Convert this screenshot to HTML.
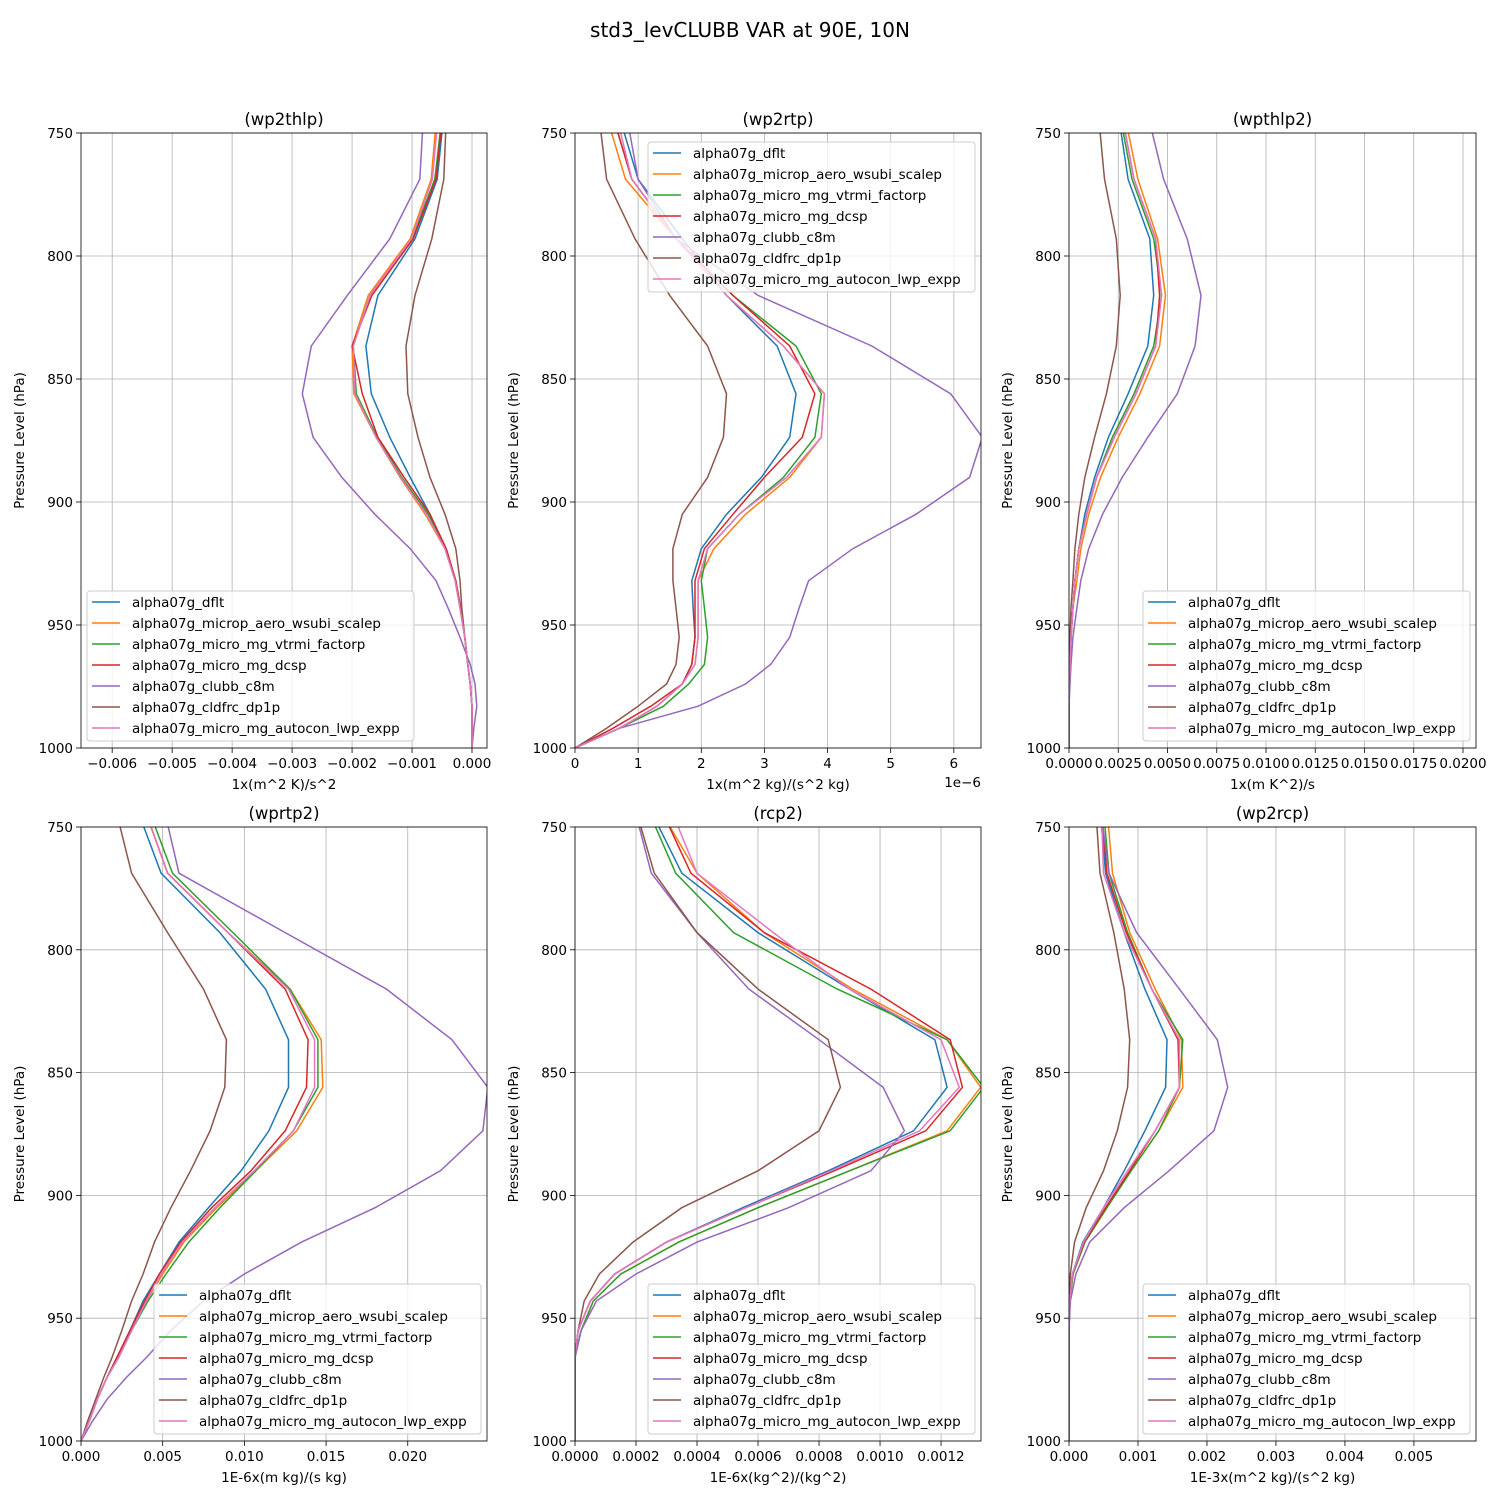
<!DOCTYPE html>
<html><head><meta charset="utf-8">
<style>
html,body{margin:0;padding:0;background:#fff;}
svg{display:block;font-family:"DejaVu Sans","Liberation Sans",sans-serif;}
</style></head>
<body>
<svg id="fig" width="1500" height="1500" viewBox="0 0 1500 1500">
<rect width="1500" height="1500" fill="#fff"/>
<text x="750" y="37" font-size="20" text-anchor="middle">std3_levCLUBB VAR at 90E, 10N</text>
</svg>
<script>
const levels = [726, 768.8, 793, 816, 836.6, 856, 873.7, 890, 905, 919, 932, 943, 955, 966, 974, 983, 992, 1000];
const seriesNames = ["alpha07g_dflt","alpha07g_microp_aero_wsubi_scalep","alpha07g_micro_mg_vtrmi_factorp","alpha07g_micro_mg_dcsp","alpha07g_clubb_c8m","alpha07g_cldfrc_dp1p","alpha07g_micro_mg_autocon_lwp_expp"];
const colors = ["#1f77b4","#ff7f0e","#2ca02c","#d62728","#9467bd","#8c564b","#e377c2"];

// panel 1: wp2thlp
const p1Blue   = [-0.00040,-0.00058,-0.00095,-0.00157,-0.00177,-0.00168,-0.00137,-0.00103,-0.00070,-0.00045,-0.00028,-0.00020,-0.00012,-0.00007,-0.00003,0,0,0];
const p1Orange = [-0.00053,-0.00068,-0.00103,-0.00173,-0.00200,-0.00197,-0.00160,-0.00120,-0.00078,-0.00045,-0.00028,-0.00020,-0.00012,-0.00007,-0.00003,0,0,0];
const p1Green  = [-0.00042,-0.00062,-0.00100,-0.00170,-0.00198,-0.00193,-0.00158,-0.00117,-0.00073,-0.00043,-0.00027,-0.00019,-0.00012,-0.00007,-0.00003,0,0,0];
const p1Red    = [-0.00042,-0.00060,-0.00098,-0.00167,-0.00200,-0.00183,-0.00157,-0.00113,-0.00070,-0.00043,-0.00027,-0.00019,-0.00012,-0.00007,-0.00003,0,0,0];
const p1Purple = [-0.00077,-0.00087,-0.00137,-0.00208,-0.00268,-0.00283,-0.00265,-0.00217,-0.00162,-0.00103,-0.00060,-0.00040,-0.00020,-0.00003,0.00005,0.00008,0.00003,0];
const p1Brown  = [-0.00040,-0.00047,-0.00067,-0.00095,-0.00110,-0.00107,-0.00090,-0.00070,-0.00045,-0.00027,-0.00020,-0.00017,-0.00012,-0.00007,-0.00003,0,0,0];
const p1Pink   = [-0.00050,-0.00066,-0.00101,-0.00170,-0.00198,-0.00195,-0.00160,-0.00119,-0.00076,-0.00045,-0.00028,-0.00020,-0.00012,-0.00007,-0.00003,0,0,0];

// panel 2: wp2rtp (x 1e-6)
const p2Blue   = [0.5,1.0,1.7,2.4,3.2,3.5,3.4,2.95,2.4,2.0,1.85,1.87,1.9,1.85,1.7,1.3,0.7,0];
const p2Orange = [0.3,0.8,1.6,2.4,3.3,3.95,3.9,3.4,2.7,2.2,1.95,1.95,1.95,1.9,1.7,1.3,0.7,0];
const p2Green  = [0.4,0.9,1.6,2.5,3.5,3.9,3.8,3.3,2.6,2.1,2.0,2.05,2.1,2.05,1.8,1.4,0.7,0];
const p2Red    = [0.4,0.9,1.6,2.5,3.4,3.8,3.6,3.0,2.5,2.05,1.9,1.9,1.9,1.85,1.7,1.2,0.6,0];
const p2Purple = [0.7,1.0,1.6,2.9,4.7,5.95,6.45,6.25,5.4,4.4,3.7,3.55,3.4,3.1,2.7,1.95,0.7,0];
const p2Brown  = [0.3,0.5,0.95,1.5,2.1,2.4,2.35,2.1,1.7,1.55,1.55,1.6,1.65,1.6,1.45,1.0,0.5,0];
const p2Pink   = [0.5,0.9,1.6,2.4,3.3,3.95,3.9,3.35,2.6,2.1,1.95,1.95,1.95,1.9,1.7,1.3,0.7,0];

// panel 3: wpthlp2
const p3Blue   = [0.0022,0.0030,0.0041,0.0043,0.0040,0.0030,0.0020,0.0013,0.0008,0.0005,0.0003,0.0002,0.0001,0.00005,0.00002,0,0,0];
const p3Orange = [0.0024,0.0035,0.0045,0.0049,0.0046,0.0036,0.0025,0.0016,0.0010,0.0006,0.0004,0.0002,0.0001,0.00005,0.00002,0,0,0];
const p3Green  = [0.0022,0.0032,0.0043,0.0047,0.0043,0.0033,0.0022,0.0014,0.0009,0.0005,0.0003,0.0002,0.0001,0.00005,0.00002,0,0,0];
const p3Red    = [0.0023,0.0033,0.0044,0.0046,0.0044,0.0034,0.0023,0.0014,0.0009,0.0005,0.0003,0.0002,0.0001,0.00005,0.00002,0,0,0];
const p3Purple = [0.0035,0.0048,0.0060,0.0067,0.0064,0.0055,0.0040,0.0027,0.0017,0.0010,0.0006,0.0004,0.0002,0.0001,0.00005,0,0,0];
const p3Brown  = [0.0013,0.0018,0.0024,0.0026,0.0024,0.0019,0.0013,0.0008,0.0005,0.0003,0.0002,0.0001,0.00005,0.00002,0,0,0,0];
const p3Pink   = [0.0023,0.0033,0.0044,0.0047,0.0044,0.0034,0.0023,0.0014,0.0009,0.0005,0.0003,0.0002,0.0001,0.00005,0.00002,0,0,0];

// panel 4: wprtp2
const p4Blue   = [0.0025,0.0049,0.0085,0.0113,0.0127,0.0127,0.0115,0.0098,0.0078,0.0060,0.0048,0.0038,0.0030,0.0022,0.0016,0.0010,0.0005,0];
const p4Orange = [0.0030,0.0053,0.0090,0.0128,0.0147,0.0148,0.0132,0.0107,0.0083,0.0063,0.0050,0.0040,0.0031,0.0023,0.0016,0.0010,0.0005,0];
const p4Green  = [0.0032,0.0056,0.0093,0.0128,0.0145,0.0145,0.0130,0.0107,0.0085,0.0066,0.0052,0.0041,0.0031,0.0023,0.0016,0.0010,0.0005,0];
const p4Red    = [0.0030,0.0053,0.0090,0.0125,0.0139,0.0138,0.0125,0.0104,0.0080,0.0061,0.0048,0.0039,0.0030,0.0022,0.0016,0.0010,0.0005,0];
const p4Purple = [0.0045,0.0060,0.0125,0.0187,0.0227,0.0249,0.0246,0.0220,0.0180,0.0135,0.0100,0.0075,0.0055,0.0040,0.0028,0.0016,0.0007,0];
const p4Brown  = [0.0015,0.0031,0.0053,0.0075,0.0089,0.0088,0.0079,0.0067,0.0055,0.0045,0.0038,0.0031,0.0025,0.0019,0.0014,0.0009,0.0004,0];
const p4Pink   = [0.0030,0.0053,0.0090,0.0127,0.0143,0.0143,0.0130,0.0106,0.0082,0.0062,0.0049,0.0040,0.0031,0.0023,0.0016,0.0010,0.0005,0];

// panel 5: rcp2
const p5Blue   = [0.00018,0.00035,0.00060,0.00090,0.00118,0.00122,0.00111,0.00083,0.00055,0.00030,0.00013,0.00005,0.00001,0,0,0,0,0];
const p5Orange = [0.00020,0.00040,0.00062,0.00091,0.00122,0.00133,0.00122,0.00090,0.00060,0.00034,0.00015,0.00006,0.00002,0,0,0,0,0];
const p5Green  = [0.00018,0.00033,0.00052,0.00086,0.00122,0.00134,0.00123,0.00090,0.00060,0.00034,0.00015,0.00006,0.00002,0,0,0,0,0];
const p5Red    = [0.00022,0.00038,0.00062,0.00097,0.00123,0.00127,0.00115,0.00085,0.00056,0.00030,0.00013,0.00005,0.00001,0,0,0,0,0];
const p5Purple = [0.00016,0.00025,0.00040,0.00057,0.00080,0.00101,0.00108,0.00097,0.00070,0.00040,0.00020,0.00007,0.00002,0,0,0,0,0];
const p5Brown  = [0.00016,0.00026,0.00040,0.00060,0.00083,0.00087,0.00080,0.00060,0.00035,0.00019,0.00008,0.00003,0.00001,0,0,0,0,0];
const p5Pink   = [0.00026,0.00040,0.00065,0.00090,0.00120,0.00126,0.00113,0.00084,0.00056,0.00030,0.00013,0.00005,0.00001,0,0,0,0,0];

// panel 6: wp2rcp
const p6Blue   = [0.00040,0.00053,0.00080,0.00110,0.00142,0.00140,0.00110,0.00080,0.00050,0.00020,0.00005,0.00001,0,0,0,0,0,0];
const p6Orange = [0.00050,0.00063,0.00088,0.00125,0.00163,0.00165,0.00130,0.00090,0.00055,0.00023,0.00006,0.00001,0,0,0,0,0,0];
const p6Green  = [0.00045,0.00058,0.00085,0.00120,0.00165,0.00160,0.00130,0.00090,0.00055,0.00023,0.00006,0.00001,0,0,0,0,0,0];
const p6Red    = [0.00042,0.00055,0.00083,0.00120,0.00158,0.00160,0.00125,0.00088,0.00053,0.00022,0.00005,0.00001,0,0,0,0,0,0];
const p6Purple = [0.00038,0.00058,0.00098,0.00160,0.00215,0.00230,0.00210,0.00145,0.00080,0.00030,0.00010,0.00002,0,0,0,0,0,0];
const p6Brown  = [0.00035,0.00045,0.00065,0.00080,0.00088,0.00085,0.00070,0.00050,0.00025,0.00008,0.00002,0,0,0,0,0,0,0];
const p6Pink   = [0.00045,0.00050,0.00080,0.00120,0.00160,0.00160,0.00125,0.00085,0.00050,0.00021,0.00005,0.00001,0,0,0,0,0,0];

const yTicks = [750,800,850,900,950,1000];
const p1Ticks = [-0.006,-0.005,-0.004,-0.003,-0.002,-0.001,0];
const p1Labels = ["\u22120.006","\u22120.005","\u22120.004","\u22120.003","\u22120.002","\u22120.001","0.000"];
const p2Ticks = [0,1,2,3,4,5,6];
const p2Labels = ["0","1","2","3","4","5","6"];
const p3Ticks = [0,0.0025,0.005,0.0075,0.01,0.0125,0.015,0.0175,0.02];
const p3Labels = ["0.0000","0.0025","0.0050","0.0075","0.0100","0.0125","0.0150","0.0175","0.0200"];
const p4Ticks = [0,0.005,0.01,0.015,0.02];
const p4Labels = ["0.000","0.005","0.010","0.015","0.020"];
const p5Ticks = [0,0.0002,0.0004,0.0006,0.0008,0.001,0.0012];
const p5Labels = ["0.0000","0.0002","0.0004","0.0006","0.0008","0.0010","0.0012"];
const p6Ticks = [0,0.001,0.002,0.003,0.004,0.005];
const p6Labels = ["0.000","0.001","0.002","0.003","0.004","0.005"];

const panels = [
 {id:"wp2thlp", title:"(wp2thlp)", x0:81,x1:487,y0:133,y1:748, xmin:-0.00652, xmax:0.00025, ticks:p1Ticks, labels:p1Labels, xlabel:"1x(m^2 K)/s^2", data:[p1Blue,p1Orange,p1Green,p1Red,p1Purple,p1Brown,p1Pink], leg:[87,591]},
 {id:"wp2rtp", title:"(wp2rtp)", x0:575,x1:981,y0:133,y1:748, xmin:0, xmax:6.43, ticks:p2Ticks, labels:p2Labels, xlabel:"1x(m^2 kg)/(s^2 kg)", data:[p2Blue,p2Orange,p2Green,p2Red,p2Purple,p2Brown,p2Pink], leg:[648,142], offset:"1e\u22126"},
 {id:"wpthlp2", title:"(wpthlp2)", x0:1069,x1:1476,y0:133,y1:748, xmin:0, xmax:0.02066, ticks:p3Ticks, labels:p3Labels, xlabel:"1x(m K^2)/s", data:[p3Blue,p3Orange,p3Green,p3Red,p3Purple,p3Brown,p3Pink], leg:[1143,591]},
 {id:"wprtp2", title:"(wprtp2)", x0:81,x1:487,y0:827,y1:1441, xmin:0, xmax:0.02485, ticks:p4Ticks, labels:p4Labels, xlabel:"1E-6x(m kg)/(s kg)", data:[p4Blue,p4Orange,p4Green,p4Red,p4Purple,p4Brown,p4Pink], leg:[154,1284]},
 {id:"rcp2", title:"(rcp2)", x0:575,x1:981,y0:827,y1:1441, xmin:0, xmax:0.001331, ticks:p5Ticks, labels:p5Labels, xlabel:"1E-6x(kg^2)/(kg^2)", data:[p5Blue,p5Orange,p5Green,p5Red,p5Purple,p5Brown,p5Pink], leg:[648,1284]},
 {id:"wp2rcp", title:"(wp2rcp)", x0:1069,x1:1476,y0:827,y1:1441, xmin:0, xmax:0.0059, ticks:p6Ticks, labels:p6Labels, xlabel:"1E-3x(m^2 kg)/(s^2 kg)", data:[p6Blue,p6Orange,p6Green,p6Red,p6Purple,p6Brown,p6Pink], leg:[1143,1284]}
];

const NS = "http://www.w3.org/2000/svg";
const fig = document.getElementById("fig");
function mk(tag, attrs, parent){
  const e = document.createElementNS(NS, tag);
  for (const k in attrs) e.setAttribute(k, attrs[k]);
  (parent||fig).appendChild(e);
  return e;
}
const defs = mk("defs", {});

panels.forEach((p, pi) => {
  const g = mk("g", {});
  
  
  const xs = v => p.x0 + (v - p.xmin) / (p.xmax - p.xmin) * (p.x1 - p.x0);
  const ys = v => p.y0 + (v - 750) / 250 * (p.y1 - p.y0);
  const cp = mk("clipPath", {id:"clip"+pi}, defs);
  mk("rect", {x:p.x0, y:p.y0, width:p.x1-p.x0, height:p.y1-p.y0}, cp);

  p.ticks.forEach((t, i) => {
    const x = xs(t);
    const gl = mk("line", {x1:x, x2:x, y1:p.y0, y2:p.y1, stroke:"#b0b0b0", "stroke-width":0.8}, g);
    
    
    mk("line", {x1:x, x2:x, y1:p.y1, y2:p.y1+5, stroke:"#000", "stroke-width":0.8}, g);
    const tl = mk("text", {x:x, y:p.y1+20, "font-size":13.5, "text-anchor":"middle"}, g);
    tl.textContent = p.labels[i];
    
    
  });
  yTicks.forEach(t => {
    const y = ys(t);
    const gl = mk("line", {x1:p.x0, x2:p.x1, y1:y, y2:y, stroke:"#b0b0b0", "stroke-width":0.8}, g);
    
    
    mk("line", {x1:p.x0-5, x2:p.x0, y1:y, y2:y, stroke:"#000", "stroke-width":0.8}, g);
    const tl = mk("text", {x:p.x0-8, y:y+5, "font-size":13.5, "text-anchor":"end"}, g);
    tl.textContent = String(t);
    
    
  });

  const sg = mk("g", {"clip-path":"url(#clip"+pi+")"}, g);
  p.data.forEach((arr, si) => {
    const pts = arr.map((v, i) => xs(v).toFixed(1) + "," + ys(levels[i]).toFixed(1)).join(" ");
    const pl = mk("polyline", {points:pts, fill:"none", stroke:colors[si], "stroke-width":1.5}, sg);
    
    
  });

  const fr = mk("rect", {x:p.x0, y:p.y0, width:p.x1-p.x0, height:p.y1-p.y0, fill:"none", stroke:"#000", "stroke-width":0.8}, g);
  
  

  const tt = mk("text", {x:(p.x0+p.x1)/2, y:p.y0-8, "font-size":16.5, "text-anchor":"middle"}, g);
  tt.textContent = p.title;
  
  

  const xl = mk("text", {x:(p.x0+p.x1)/2, y:p.y1+41, "font-size":13.5, "text-anchor":"middle"}, g);
  xl.textContent = p.xlabel;
  
  

  const cy = (p.y0+p.y1)/2;
  const yl = mk("text", {x:p.x0-57, y:cy, "font-size":13.5, "text-anchor":"middle", transform:"rotate(-90 "+(p.x0-57)+" "+cy+")"}, g);
  yl.textContent = "Pressure Level (hPa)";
  
  

  if (p.offset) {
    const ot = mk("text", {x:p.x1, y:p.y1+39, "font-size":13.5, "text-anchor":"end"}, g);
    ot.textContent = p.offset;
    
    
  }

  const lg = mk("g", {}, g);
  
  
  const lx = p.leg[0], ly = p.leg[1];
  mk("rect", {x:lx, y:ly, width:327, height:150, rx:3, fill:"#fff", "fill-opacity":0.8, stroke:"#ccc", "stroke-width":1}, lg);
  seriesNames.forEach((n, si) => {
    const ey = ly + 11 + si * 21;
    const e = mk("g", {}, lg);
    
    
    mk("line", {x1:lx+5, x2:lx+33, y1:ey, y2:ey, stroke:colors[si], "stroke-width":1.5}, e);
    const t = mk("text", {x:lx+45, y:ey+5, "font-size":13.5}, e);
    t.textContent = n;
  });
});
</script>
</body></html>
